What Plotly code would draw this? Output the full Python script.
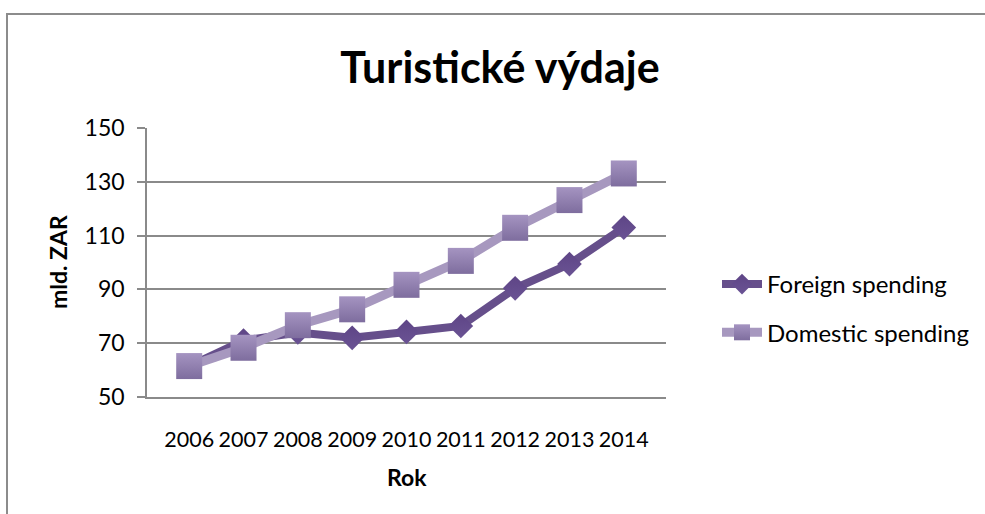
import plotly.graph_objects as go

years = ["2006", "2007", "2008", "2009", "2010", "2011", "2012", "2013", "2014"]
foreign = [61.5, 71, 74, 72, 74.2, 76.4, 90.4, 99.4, 113]
domestic = [61.5, 68.3, 76.7, 82.6, 91.7, 100.6, 112.9, 123.2, 133.1]
y_ticks = [50, 70, 90, 110, 130, 150]

W, H = 985, 514
L, R, T, B = 147, 985 - 666, 128, 514 - 397
PW, PH = W - L - R, H - T - B

def px_x(px):
    return (px - L) / PW

def px_y(py):
    return (H - B - py) / PH

FONT = "Lato"
GRID = "#8a8a8a"

fig = go.Figure()
fig.add_trace(go.Scatter(
    x=years, y=foreign, name="Foreign spending", mode="lines+markers",
    line=dict(color="#664f8b", width=8),
    marker=dict(symbol="diamond", size=19, color="#5e4586",
                gradient=dict(type="vertical", color="#6a5394")),
    legendgroup="a",
))
fig.add_trace(go.Scatter(
    x=years, y=domestic, name="Domestic spending", mode="lines+markers",
    line=dict(color="#a798bf", width=9),
    marker=dict(symbol="square", size=26, color="#a594c1",
                gradient=dict(type="vertical", color="#7e6d9e")),
    legendgroup="b",
))

fig.update_layout(
    width=W, height=H,
    margin=dict(l=L, r=R, t=T, b=B, autoexpand=False),
    paper_bgcolor="white", plot_bgcolor="white",
    font=dict(family=FONT, color="black"),
    title=dict(text="<b>Turistické výdaje</b>", font=dict(family=FONT, size=43, color="black"),
               x=500 / W, xanchor="center", y=1 - 68 / H, yanchor="middle", xref="container", yref="container"),
    showlegend=True,
    legend=dict(x=px_x(717), y=px_y(262), xanchor="left", yanchor="top",
                font=dict(family=FONT, size=24, color="black"),
                tracegroupgap=14, traceorder="grouped", itemwidth=40,
                bgcolor="rgba(0,0,0,0)"),
    xaxis=dict(type="category", categoryorder="array", categoryarray=years,
               showgrid=False, showline=True, linecolor=GRID, linewidth=1.5,
               ticks="", tickangle=0, tickfont=dict(family=FONT, size=21.5, color="black"),
               ticklabelstandoff=22, fixedrange=True),
    yaxis=dict(range=[50, 150], tickvals=y_ticks, ticktext=[str(v) for v in y_ticks],
               showgrid=True, gridcolor=GRID, gridwidth=1.5, zeroline=False,
               showline=True, linecolor=GRID, linewidth=1.5,
               ticks="outside", ticklen=8, tickcolor=GRID, tickwidth=1.5,
               tickfont=dict(family=FONT, size=23, color="black"),
               ticklabelstandoff=8, fixedrange=True),
    annotations=[
        dict(text="<b>mld. ZAR</b>", textangle=-90, x=px_x(58), y=px_y(262),
             xref="paper", yref="paper", showarrow=False,
             font=dict(family=FONT, size=23, color="black"), xanchor="center", yanchor="middle"),
        dict(text="<b>Rok</b>", x=px_x(407), y=px_y(477),
             xref="paper", yref="paper", showarrow=False,
             font=dict(family=FONT, size=23, color="black"), xanchor="center", yanchor="middle"),
    ],
    shapes=[dict(type="rect", xref="paper", yref="paper",
                 x0=px_x(7), x1=px_x(995), y0=px_y(14), y1=px_y(525),
                 line=dict(color="#8c8c8c", width=2), layer="below")],
)

fig.write_html("out.html", config={"displayModeBar": False},
               post_script="document.body.style.margin='0';document.body.style.overflow='hidden';")
